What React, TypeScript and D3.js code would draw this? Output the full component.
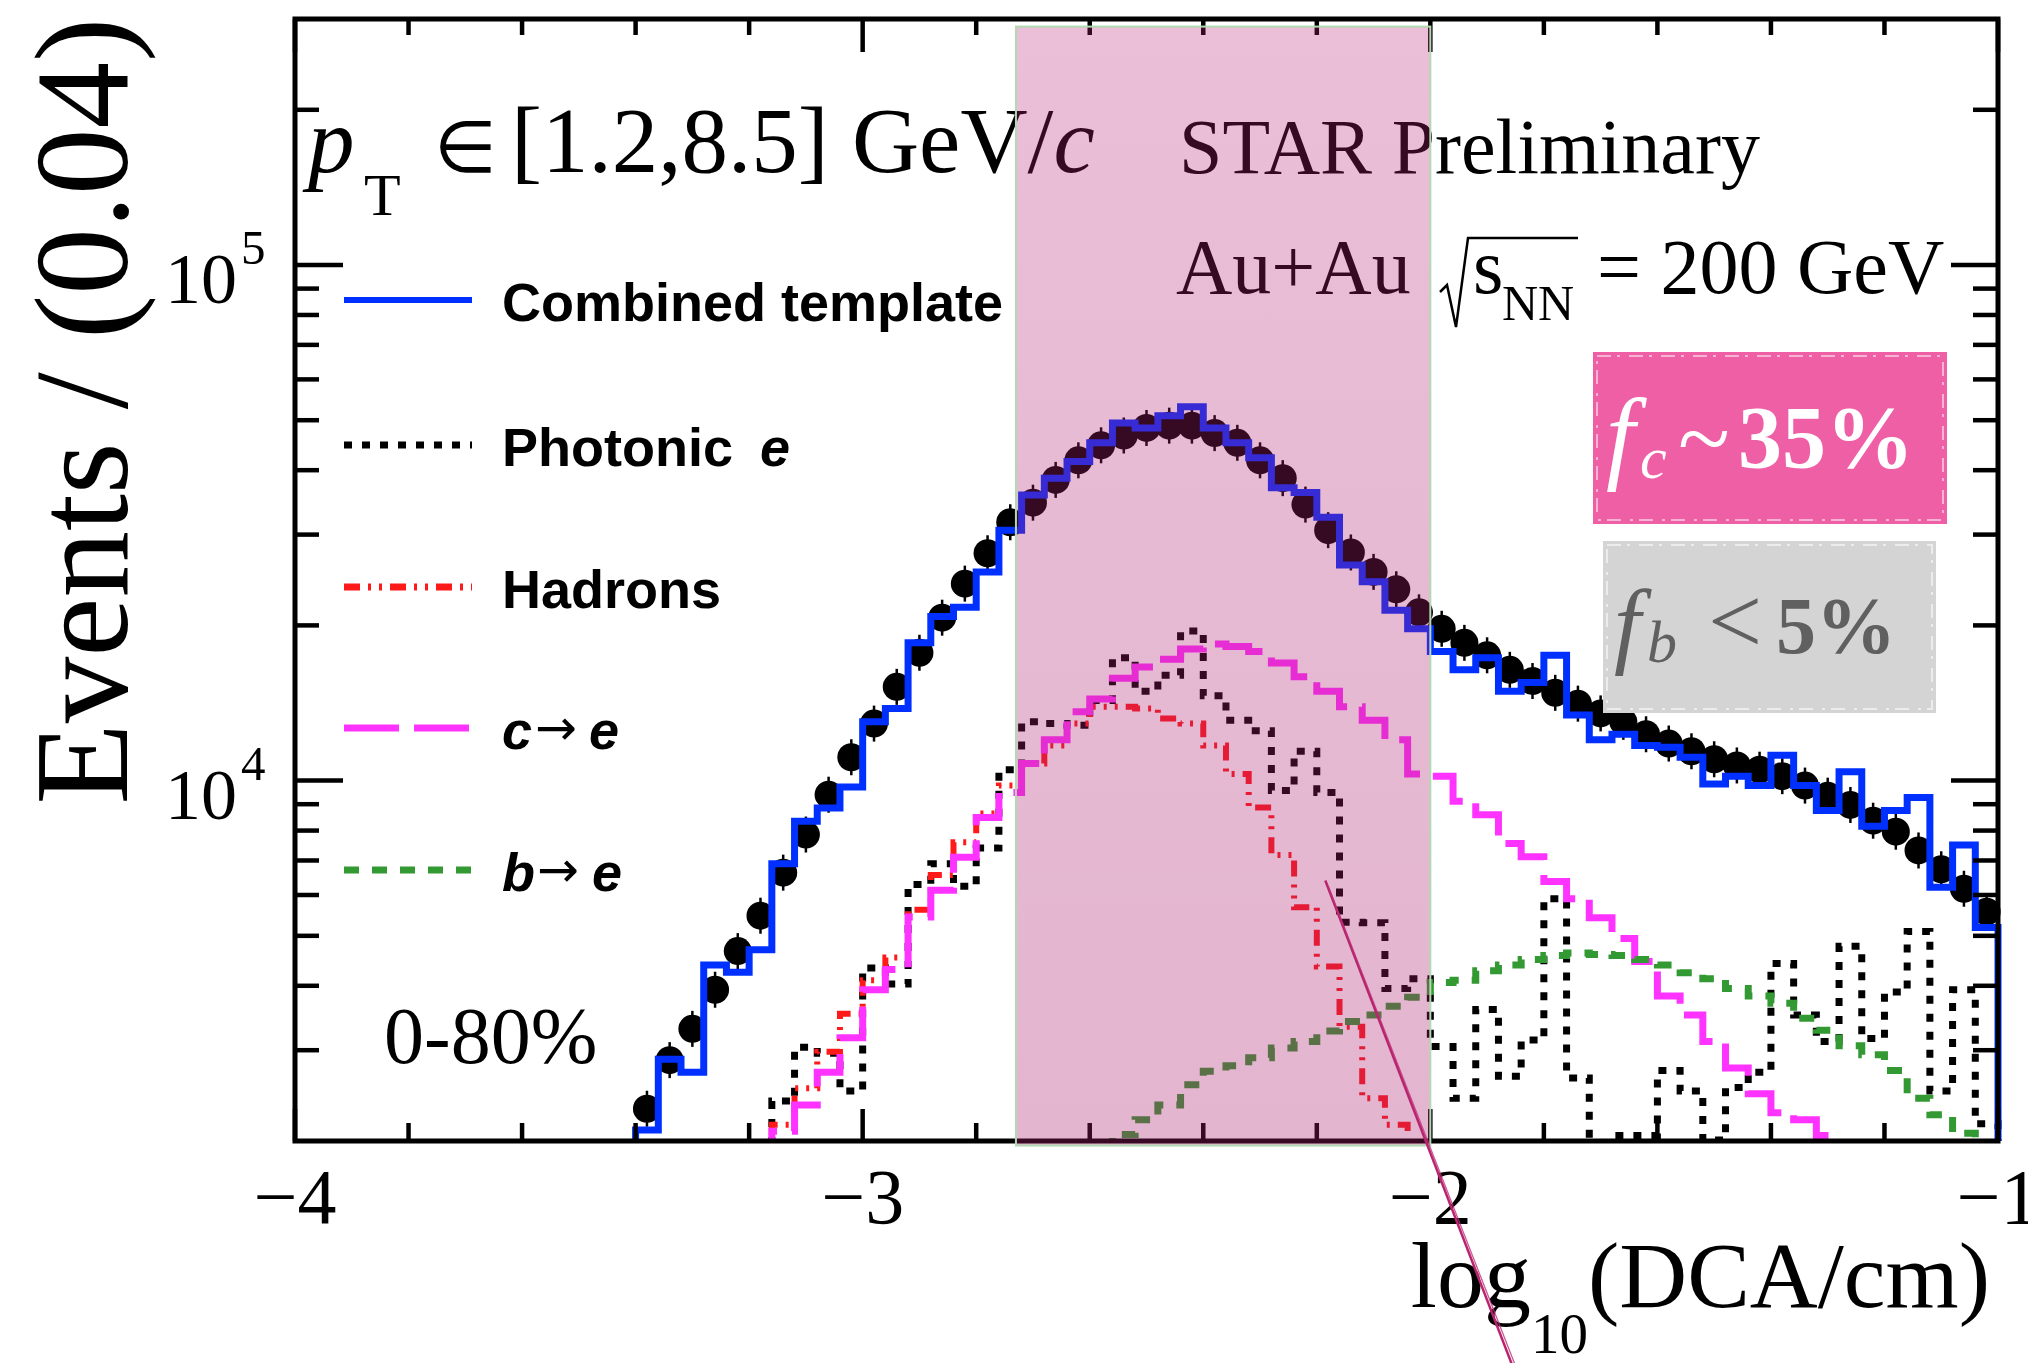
import React from "react";
import * as d3 from "d3";

// ---------------- data ----------------
const xDomain = [-4, -1];
const yDomain = [2000, 3e5];
const binOrigin = -4;
const binWidth = 0.04;

const xMajorTicks = [-4, -3, -2, -1];
const xTickLabels = ["\u22124", "\u22123", "\u22122", "\u22121"];
const xMinorTicks = [-3.8, -3.6, -3.4, -3.2, -2.8, -2.6, -2.4, -2.2, -1.8, -1.6, -1.4, -1.2];
const yMajorTicks = [1e4, 1e5];
const yMajorExponents = ["4", "5"];
const yMinorTicks = [3000, 4000, 5000, 6000, 7000, 8000, 9000, 20000, 30000, 40000, 50000, 60000, 70000, 80000, 90000, 200000];

// Combined template (bins of 0.04 starting at bin index 15 -> -3.40)
const combinedStartBin = 15;
const combinedTemplate = [
  2100, 2880, 2720, 4390, 4250, 4700, 6900, 8340, 8850, 9720,
  13000, 13800, 18500, 20800, 21700, 25400, 30600, 35800, 38600, 41600,
  45200, 49400, 48300, 51000, 53100, 48300, 45200, 42300, 37000, 36200,
  32400, 26200, 24300, 21400, 19700, 17800, 16400, 17300, 14900, 15500,
  17500, 13400, 12000, 12300, 11700, 11600, 11100, 9850, 10200, 9780,
  11200, 9780, 8750, 10400, 8160, 8750, 9270, 6210, 7500, 5190,
];

// Data points (bin centres)
const dataStartBin = 15;
const dataPoints = [
  2310, 2870, 3300, 3930, 4670, 5470, 6630, 7860, 9390, 11100,
  12900, 15200, 17700, 20700, 24100, 27600, 31700, 34600, 38300, 41800,
  44700, 46700, 48300, 48800, 48800, 47200, 45200, 41800, 38600, 34300,
  30600, 27700, 25400, 23500, 21200, 19700, 18500, 17500, 16400, 15600,
  14800, 14100, 13500, 13000, 12300, 11800, 11400, 11000, 10700, 10500,
  10200, 9780, 9350, 8970, 8360, 7960, 7320, 6730, 6170, 5570,
];

const photonicStartBin = 21;
const photonic = [
  2390, 3040, 2960, 2500, 4330, 4030, 6290, 6900, 6240, 7400,
  10500, 13000, 12900, 12800, 14300, 17300, 14900, 16000, 19500, 14600,
  13100, 12500, 9570, 11400, 9480, 5310, 5300, 3950, 4130, 3050,
  2420, 3600, 2670, 3140, 5900, 2650, 1800, 2050, 2050, 2740,
  2500, 2010, 2540, 2720, 4420, 3510, 3120, 4770, 3160, 3890,
  5100, 2500, 3930, 2160,
];

const hadronsStartBin = 21;
const hadrons = [
  2150, 2530, 2980, 3530, 4100, 4540, 5620, 6560, 7590, 8630,
  9780, 10800, 11700, 12900, 13900, 13900, 13800, 13200, 12900, 11700,
  10300, 8870, 7170, 5680, 4360, 3330, 2420, 2150, 1800,
];

const charmStartBin = 21;
const charm = [
  2090, 2350, 2720, 3170, 3930, 4300, 5440, 6130, 7100, 8480,
  9480, 10800, 12000, 13600, 14400, 15800, 16600, 17200, 18000, 18400,
  18200, 17800, 16900, 15900, 14900, 13900, 13100, 12000, 10300, 10200,
  9120, 8590, 7550, 7120, 6370, 5900, 5420, 4940, 4460, 3820,
  3510, 3120, 2770, 2470, 2270, 2200, 2050, 1850,
];

const bottomStartBin = 36;
const bottomSeries = [
  2060, 2200, 2350, 2570, 2730, 2800, 2900, 3030, 3120, 3270,
  3410, 3510, 3650, 3800, 4060, 4100, 4280, 4390, 4500, 4580,
  4630, 4600, 4580, 4500, 4390, 4240, 4130, 3950, 3820, 3700,
  3460, 3280, 3060, 2940, 2740, 2420, 2250, 2070, 1900,
];

const shadedRange = [-2.73, -2.0];
const shadedValueRange = [1960, 2.9e5];
const markerLine = { x0: -2.185, y0: 6400, x1: -1.857, y1: 741 };

const legendLabels = ["Combined template", "Photonic", "Hadrons", "c", "b"];
const legendColors = ["#0030ff", "#000000", "#ff1a1a", "#ff33ff", "#339933"];
const legendDashes = ["none", "8,10", "16,8,3,8,3,8", "55,15", "15,13"];

// ---------------- layout ----------------
const W = 2028;
const H = 1363;
const PLOT = { left: 295, right: 1998, top: 19, bottom: 1141 };
const SERIF = "'Liberation Serif', 'Times New Roman', serif";
const SANS = "'Liberation Sans', Arial, Helvetica, sans-serif";

export default function App() {
  const x = d3.scaleLinear().domain(xDomain).range([PLOT.left, PLOT.right]);
  const y = d3.scaleLog().domain(yDomain).range([PLOT.bottom, PLOT.top]);
  const edge = (i: number) => x(binOrigin + i * binWidth);
  const centre = (i: number) => x(binOrigin + (i + 0.5) * binWidth);

  const stepPath = (start: number, vals: number[]) => {
    const p = d3.path();
    const floor = PLOT.bottom + 40;
    p.moveTo(edge(start), floor);
    vals.forEach((v, k) => {
      p.lineTo(edge(start + k), y(v));
      p.lineTo(edge(start + k + 1), y(v));
    });
    p.lineTo(edge(start + vals.length), floor);
    return p.toString();
  };

  const lw = 7;
  const legendY = [300, 445, 587, 728, 870];
  const markerR = 14;

  return (
    <svg
      width={W}
      height={H}
      viewBox={`0 0 ${W} ${H}`}
      style={{ position: "absolute", left: 0, top: 0, background: "#fff" }}
    >
      <defs>
        <clipPath id="plotClip">
          <rect x={PLOT.left} y={PLOT.top} width={PLOT.right - PLOT.left + 6} height={PLOT.bottom - PLOT.top} />
        </clipPath>
        <linearGradient id="shadeGrad" x1="0" y1="0" x2="0" y2="1">
          <stop offset="0" stopColor="rgb(183,33,117)" stopOpacity={0.29} />
          <stop offset="1" stopColor="rgb(170,30,110)" stopOpacity={0.33} />
        </linearGradient>
      </defs>
      <rect x={0} y={0} width={W} height={H} fill="#fff" />

      {/* data + histograms */}
      <g clipPath="url(#plotClip)">
        {dataPoints.map((v, k) => (
          <g key={k}>
            <line
              x1={centre(dataStartBin + k)}
              x2={centre(dataStartBin + k)}
              y1={y(v) - markerR - 4}
              y2={y(v) + markerR + 4}
              stroke="#000"
              strokeWidth={2.5}
            />
            <circle cx={centre(dataStartBin + k)} cy={y(v)} r={markerR} fill="#000" />
          </g>
        ))}
        <path d={stepPath(photonicStartBin, photonic)} fill="none" stroke={legendColors[1]} strokeWidth={lw} strokeDasharray={legendDashes[1]} />
        <path d={stepPath(hadronsStartBin, hadrons)} fill="none" stroke={legendColors[2]} strokeWidth={lw - 1} strokeDasharray={legendDashes[2]} />
        <path d={stepPath(charmStartBin, charm)} fill="none" stroke={legendColors[3]} strokeWidth={lw} strokeDasharray={legendDashes[3]} />
        <path d={stepPath(bottomStartBin, bottomSeries)} fill="none" stroke={legendColors[4]} strokeWidth={lw} strokeDasharray={legendDashes[4]} />
        <path d={stepPath(combinedStartBin, combinedTemplate)} fill="none" stroke={legendColors[0]} strokeWidth={lw} />
      </g>

      {/* frame & ticks */}
      <g stroke="#000" strokeWidth={5} fill="none">
        <rect x={PLOT.left} y={PLOT.top} width={PLOT.right - PLOT.left} height={PLOT.bottom - PLOT.top} />
      </g>
      <g stroke="#000" strokeWidth={4.5}>
        {xMajorTicks.map((t, k) => (
          <g key={"xM" + k}>
            <line x1={x(t)} x2={x(t)} y1={PLOT.bottom} y2={PLOT.bottom - 32} />
            <line x1={x(t)} x2={x(t)} y1={PLOT.top} y2={PLOT.top + 33} />
          </g>
        ))}
        {xMinorTicks.map((t, k) => (
          <g key={"xm" + k}>
            <line x1={x(t)} x2={x(t)} y1={PLOT.bottom} y2={PLOT.bottom - 18} />
            <line x1={x(t)} x2={x(t)} y1={PLOT.top} y2={PLOT.top + 16} />
          </g>
        ))}
        {yMajorTicks.map((t, k) => (
          <g key={"yM" + k}>
            <line x1={PLOT.left} x2={PLOT.left + 48} y1={y(t)} y2={y(t)} />
            <line x1={PLOT.right} x2={PLOT.right - 47} y1={y(t)} y2={y(t)} />
          </g>
        ))}
        {yMinorTicks.map((t, k) => (
          <g key={"ym" + k}>
            <line x1={PLOT.left} x2={PLOT.left + 24} y1={y(t)} y2={y(t)} />
            <line x1={PLOT.right} x2={PLOT.right - 25} y1={y(t)} y2={y(t)} />
          </g>
        ))}
      </g>

      {/* tick labels */}
      <g fontFamily={SERIF} fill="#000">
        {xMajorTicks.map((t, k) => (
          <text key={"xl" + k} x={x(t)} y={1223} fontSize={78} textAnchor="middle">
            {xTickLabels[k]}
          </text>
        ))}
        {yMajorTicks.map((t, k) => (
          <g key={"yl" + k}>
            <text x={237} y={y(t) + 38} fontSize={72} textAnchor="end">10</text>
            <text x={241} y={y(t) - 1} fontSize={49}>{yMajorExponents[k]}</text>
          </g>
        ))}
      </g>

      {/* axis titles */}
      <text
        transform="translate(127,411) rotate(-90)"
        textAnchor="middle"
        fontFamily={SERIF}
        fontSize={133}
        fill="#000"
      >
        Events / (0.04)
      </text>
      <text x={1990} y={1307} textAnchor="end" fontFamily={SERIF} fontSize={94} fill="#000">
        log
        <tspan fontSize={57} dy={46}>10</tspan>
        <tspan dy={-46}>(DCA/cm)</tspan>
      </text>

      {/* annotations */}
      <text y={172} fontFamily={SERIF} fontSize={93} fill="#000">
        <tspan x={308} fontStyle="italic">p</tspan>
        <tspan x={364} y={215} fontSize={60}>T</tspan>
        <tspan x={434} y={172} fontSize={72}>{"\u2208"}</tspan>
        <tspan x={511}>[1.2,8.5] GeV/</tspan>
        <tspan fontStyle="italic">c</tspan>
      </text>
      <text x={1179} y={173} fontFamily={SERIF} fontSize={78} fill="#000">STAR Preliminary</text>
      <text x={1176} y={293} fontFamily={SERIF} fontSize={78} fill="#000">Au+Au</text>
      <path d="M1440,292 L1447,285 L1456,327 L1468,238 L1578,238" fill="none" stroke="#000" strokeWidth={2.5} />
      <text y={293} fontFamily={SERIF} fontSize={78} fill="#000">
        <tspan x={1473}>s</tspan>
        <tspan x={1502} y={320} fontSize={50}>NN</tspan>
        <tspan x={1597} y={293}>= 200 GeV</tspan>
      </text>
      <text x={384} y={1063} fontFamily={SERIF} fontSize={80} fill="#000">0-80%</text>

      {/* legend */}
      <g>
        {legendY.map((ly, k) => (
          <line
            key={"lg" + k}
            x1={344}
            x2={472}
            y1={ly}
            y2={ly}
            stroke={legendColors[k]}
            strokeWidth={k === 0 ? 6 : 7}
            strokeDasharray={legendDashes[k]}
          />
        ))}
        <g fontFamily={SANS} fontWeight="bold" fontSize={54} fill="#000">
          <text x={502} y={legendY[0] + 21}>{legendLabels[0]}</text>
          <text x={502} y={legendY[1] + 21}>
            {legendLabels[1]}
            <tspan x={760} fontStyle="italic">e</tspan>
          </text>
          <text x={502} y={legendY[2] + 21}>{legendLabels[2]}</text>
          <text y={legendY[3] + 21}>
            <tspan x={502} fontStyle="italic">{legendLabels[3]}</tspan>
            <tspan x={535} y={legendY[3] + 17} fontWeight="normal" fontFamily="'DejaVu Sans', sans-serif" fontSize={50}>{"\u2192"}</tspan>
            <tspan x={589} y={legendY[3] + 21} fontStyle="italic">e</tspan>
          </text>
          <text y={legendY[4] + 21}>
            <tspan x={502} fontStyle="italic">{legendLabels[4]}</tspan>
            <tspan x={537} y={legendY[4] + 17} fontWeight="normal" fontFamily="'DejaVu Sans', sans-serif" fontSize={50}>{"\u2192"}</tspan>
            <tspan x={592} y={legendY[4] + 21} fontStyle="italic">e</tspan>
          </text>
        </g>
      </g>

      {/* shaded region overlay */}
      <rect
        x={x(shadedRange[0])}
        y={y(shadedValueRange[1])}
        width={x(shadedRange[1]) - x(shadedRange[0])}
        height={y(shadedValueRange[0]) - y(shadedValueRange[1])}
        fill="url(#shadeGrad)"
        stroke="rgb(178,218,178)"
        strokeWidth={2}
      />

      {/* fraction boxes */}
      <rect x={1593} y={352} width={354} height={172} fill="#ee5fa6" />
      <rect x={1597} y={356} width={346} height={164} fill="none" stroke="#f7b3d3" strokeWidth={2} strokeDasharray="14,6,3,9" />
      <text y={470} fontFamily={SERIF} fill="#fff">
        <tspan x={1606} fontStyle="italic" fontSize={104}>f</tspan>
        <tspan x={1640} y={478} fontStyle="italic" fontSize={60}>c</tspan>
        <tspan x={1678} y={470} fontSize={96}>~</tspan>
        <tspan x={1738} y={467} fontWeight="bold" fontSize={88}>35%</tspan>
      </text>
      <rect x={1603} y={541} width={333} height={172} fill="#d4d4d4" />
      <rect x={1607} y={545} width={325} height={164} fill="none" stroke="#ececec" strokeWidth={2} strokeDasharray="14,6,3,9" />
      <text y={656} fontFamily={SERIF} fill="#606060">
        <tspan x={1614} fontStyle="italic" fontSize={96}>f</tspan>
        <tspan x={1647} y={662} fontStyle="italic" fontSize={60}>b</tspan>
        <tspan x={1708} y={653} fontSize={96}>{"<"}</tspan>
        <tspan x={1776} y={653} fontWeight="bold" fontSize={80}>5%</tspan>
      </text>

      {/* pointer line */}
      <line
        x1={x(markerLine.x0)}
        y1={y(markerLine.y0)}
        x2={x(markerLine.x1)}
        y2={y(markerLine.y1)}
        stroke="#b8246e"
        strokeWidth={2.5}
      />
      <line
        x1={x(markerLine.x0) + 3}
        y1={y(markerLine.y0) + 6}
        x2={x(markerLine.x1) + 3}
        y2={y(markerLine.y1)}
        stroke="#c03078"
        strokeWidth={1.3}
        opacity={0.8}
      />
    </svg>
  );
}
